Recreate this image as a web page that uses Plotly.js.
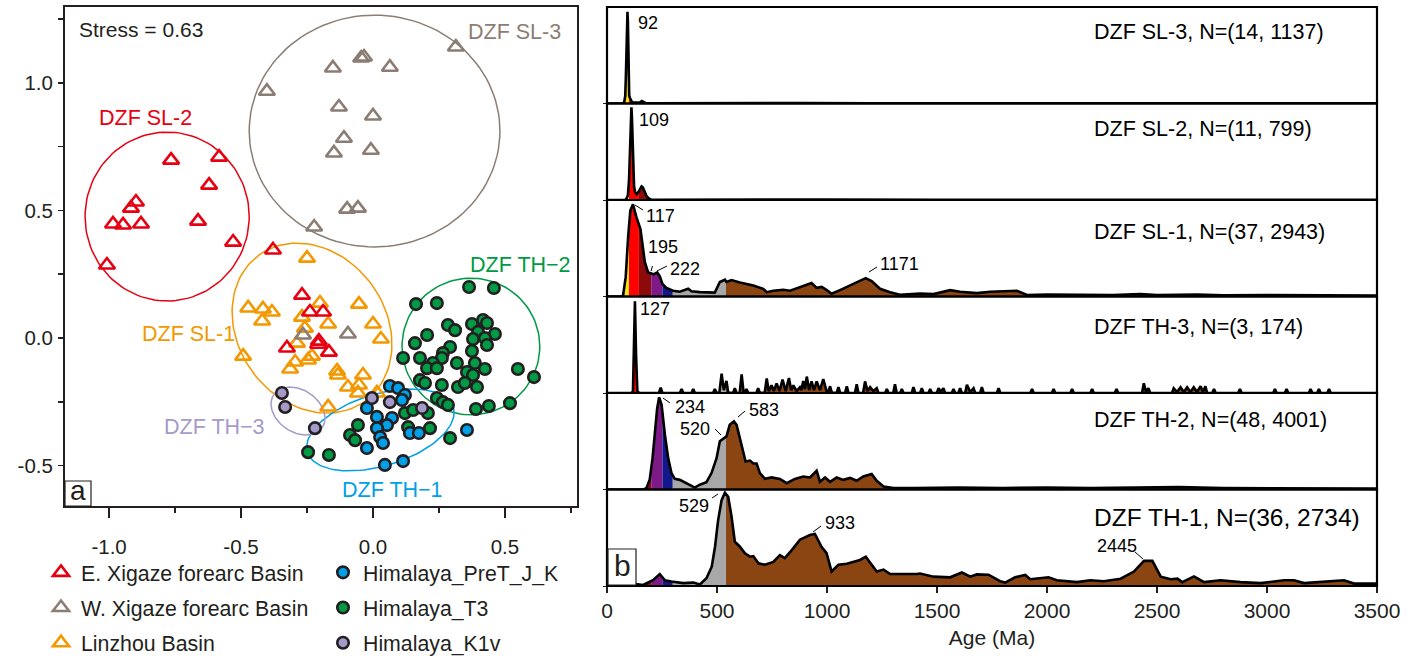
<!DOCTYPE html>
<html><head><meta charset="utf-8">
<script src="https://cdn.plot.ly/plotly-3.0.1.min.js"></script>
<style>html,body{margin:0;padding:0;background:#fff}#chart{width:1414px;height:659px}</style>
</head><body><div id="chart"></div>
<script>
// ---------------- Panel a: MDS configuration ----------------
const redX = [-0.765,-0.583,-0.621,-0.898,-0.917,-0.985,-0.947,-0.879,-0.663,-0.530,-1.008,-0.379,-0.269,-0.239,-0.189,-0.205,-0.208,-0.326,-0.167];
const redY = [0.697,0.709,0.599,0.533,0.509,0.447,0.443,0.447,0.458,0.376,0.286,0.345,0.168,0.102,0.102,-0.012,-0.024,-0.039,-0.055];
const grayX = [-0.402,-0.152,-0.045,-0.034,0.064,0.314,-0.129,0.000,-0.110,-0.148,-0.008,-0.098,-0.057,-0.223,-0.265,-0.095];
const grayY = [0.967,1.058,1.097,1.101,1.061,1.140,0.905,0.870,0.783,0.725,0.736,0.505,0.509,0.435,0.012,0.016];
const orangeX = [-0.250,-0.473,-0.417,-0.383,-0.420,-0.201,-0.053,-0.269,-0.258,-0.170,0.000,0.030,-0.288,-0.492,-0.231,-0.246,-0.295,-0.314,-0.136,-0.133,-0.038,-0.053,-0.095,-0.057,0.015,-0.170];
const orangeY = [0.313,0.118,0.114,0.102,0.067,0.137,0.133,0.082,0.039,0.055,0.055,-0.004,-0.020,-0.071,-0.071,-0.086,-0.094,-0.121,-0.129,-0.145,-0.145,-0.184,-0.192,-0.215,-0.215,-0.270];
const greenX = [0.364,0.458,0.163,0.242,0.284,0.311,0.375,0.417,0.432,0.398,0.462,0.205,0.159,0.379,0.424,0.432,0.292,0.265,0.261,0.375,0.114,0.178,0.318,0.386,0.424,0.227,0.205,0.242,0.356,0.379,0.549,0.610,0.178,0.197,0.261,0.322,0.348,0.394,0.242,0.265,0.284,0.519,0.439,0.390,0.208,0.121,-0.057,-0.087,-0.068,-0.246,-0.167,0.152,0.133,0.216,0.292];
const greenY = [0.200,0.196,0.133,0.137,0.051,0.031,0.055,0.071,0.059,0.024,0.016,0.012,-0.020,-0.004,0.000,-0.027,-0.035,-0.059,-0.078,-0.051,-0.078,-0.078,-0.098,-0.098,-0.121,-0.098,-0.118,-0.118,-0.133,-0.145,-0.121,-0.153,-0.165,-0.176,-0.184,-0.192,-0.176,-0.192,-0.235,-0.251,-0.262,-0.255,-0.266,-0.278,-0.294,-0.294,-0.341,-0.380,-0.400,-0.447,-0.458,-0.282,-0.349,-0.353,-0.392];
const blueX = [0.064,0.095,0.121,0.110,-0.023,0.015,0.072,0.053,0.015,0.027,0.038,-0.023,0.140,0.174,0.045,0.114,0.356];
const blueY = [-0.188,-0.196,-0.223,-0.243,-0.274,-0.309,-0.313,-0.341,-0.353,-0.388,-0.411,-0.431,-0.372,-0.372,-0.497,-0.482,-0.360];
const purpleX = [-0.345,-0.333,-0.220,-0.004,0.064,0.186];
const purpleY = [-0.215,-0.270,-0.353,-0.235,-0.251,-0.274];

// group ellipses: centre, semi-axes, rotation
const ellipseNames = ['DZF SL-3','DZF SL-2','DZF SL-1','DZF TH-2','DZF TH-1','DZF TH-3'];
const ellipseCx = [0.006,-0.780,-0.231,0.371,0.028,-0.284];
const ellipseCy = [0.811,0.476,0.039,-0.033,-0.360,-0.286];
const ellipseA  = [0.475,0.311,0.342,0.261,0.289,0.111];
const ellipseB  = [0.439,0.320,0.280,0.259,0.136,0.080];
const ellipseAng= [0,0,126,0,17,-34];

const xTickVals = [-1,-0.5,0,0.5];
const xTickText = ['-1.0','-0.5','0.0','0.5'];
const yTickVals = [-0.5,0,0.5,1];
const yTickText = ['-0.5','0.0','0.5','1.0'];

// ---------------- Panel b: KDE age spectra ----------------
const sampleNames = ['DZF SL-3, N=(14, 1137)','DZF SL-2, N=(11, 799)','DZF SL-1, N=(37, 2943)','DZF TH-3, N=(3, 174)','DZF TH-2, N=(48, 4001)','DZF TH-1, N=(36, 2734)'];

const sl3Age = [0,70,78,83,86,88,90,93,95,97,99,101,104,108,112,120,140,150,158,165,175,200,400,600,900,1200,1500,2000,2500,3000,3500];
const sl3Den = [0,0,1,8,30,60,85,95,85,50,20,8,6,4,2,1,0.5,1,2.5,2,0.5,0.3,0.5,0.3,0.4,0.3,0.3,0.2,0.2,0.2,0.2];

const sl2Age = [0,80,88,95,100,104,108,111,113,116,119,123,128,135,142,150,157,163,170,180,190,200,220,400,700,1000,1500,2000,2500,3000,3500];
const sl2Den = [0,0,1,5,20,55,85,96,88,60,30,14,8,6,8,12,14,13,9,4,1.5,0.5,0.3,0.5,0.3,0.5,0.3,0.3,0.2,0.2,0.2];

const sl1Age = [0,60,73,85,96,106,118,134,152,161,172,187,202,212,228,240,252,270,300,331,369,384,422,490,513,536,543,566,604,665,710,726,756,801,832,885,930,953,976,999,1021,1059,1120,1176,1203,1241,1287,1332,1423,1484,1560,1605,1681,1742,1863,1909,2000,2150,2300,2424,2500,2683,2800,3000,3200,3500];
const sl1Den = [0,0,1,20,61.6,89,95.5,82,70,55,35.6,25,23.5,23,25,20.8,13,9,6,5,8,5.5,4.5,4,15,17.4,15,17,14.5,11.4,8,4.5,6,7,6,10.4,14,9,10,6.6,2.8,6.6,13,19,16,8,4.5,1.7,3,2.5,6.6,5,3.5,5,6,1.5,2,1.5,1.5,2.5,1.5,2,1.2,1.5,1,1];

const th3Age = [0,112,118,122,127,132,138,146,236,244,252,331,339,347,384,392,400,482,490,498,511,521,531,543,551,573,581,589,603,612,621,626,634,642,679,687,695,
  717,726,735,748,758,771,784,798,812,827,837,847,862,877,884,892,900,908,919,930,941,953,968,983,998,1006,1014,1022,
  1044,1052,1060,1082,1090,1098,1127,1135,1143,1164,1173,1184,1196,1211,1226,1234,1264,1272,1280,1301,1309,1317,1332,1340,1348,
  1385,1393,1401,1423,1431,1439,1461,1469,1477,1499,1507,1518,1529,1537,1567,1575,1583,1597,1605,1613,1628,1636,1651,1666,1674,
  1696,1704,1712,1772,1780,1788,1924,1932,1940,2022,2030,2038,2106,2114,2122,2197,2205,2213,2308,2316,2324,2432,2440,2450,2461,2469,
  2568,2576,2591,2607,2622,2637,2652,2667,2682,2698,2709,2720,2728,2751,2759,2767,2869,2877,2885,3028,3036,3044,3081,3089,3097,
  3190,3198,3206,3228,3236,3244,3274,3282,3290,3500];
const th3Den = [0,0,2,40,95,40,2,0,0,5.5,0,0,4,0,0,4,0,0,4,0,0.5,20,3,12.5,0.5,0,5,0,0,19.4,0.5,0.5,4,0,0,5,0,
  0.5,15,2,8,2,10,2,14,2,15.6,3,8,2,6,3,12.5,4,17,3,12,3,12,3,14.5,2,1,7,0.5,
  0,6,0,0,7,0,0,9,0,0,12,2,6,2,5,0,0,4,0,0,9,0,0,4,0,
  0,6,0,0,5,0,0,4,0,0,5,1,5,0,0,4,0,0,5,0,0,8.6,1,5,0,
  0,6,0,0,5,0,0,4,0,0,4,0,0,4,0,0,4,0,0,4,0,0,10,1,5,0,
  0,5,1,6,1,6,1,6,1,7,1,7,0,0,4,0,0,4,0,0,4,0,0,4,0,
  0,4,0,0,4,0,0,4,0,0];

const th2Age = [0,165,179,194,207,217,228,237,248,263,278,293,308,331,361,399,422,452,475,498,513,531,543,558,577,589,604,619,630,650,665,680,695,718,748,786,817,854,892,923,953,968,991,1014,1044,1074,1105,1135,1165,1203,1226,1257,1302,1400,1600,1800,2000,2200,2400,2600,2800,3000,3200,3500];
const th2Den = [0,0,1.4,10,32.5,60,84,95.5,88,57,32.5,17,11,10,6.6,2,5,7.6,17,32.5,50,53,55,67,70.6,67,53,36,29,30,27,27,17,11,12.5,11,6.6,11,13.5,12.5,19.4,8,12.5,8,12.5,10,12,9,13.5,16,9,3,1.5,1.5,2,1.5,2,1.5,2,2.5,1.5,1.5,1,1];

const th1Age = [0,100,118,130,164,209,240,263,293,346,393,422,452,476,491,505,521,536,551,566,581,604,627,650,665,688,718,756,786,808,839,877,922,945,975,998,1021,1052,1090,1120,1150,1176,1203,1226,1257,1287,1409,1423,1484,1560,1613,1651,1681,1734,1787,1810,1855,1901,1924,2007,2045,2136,2197,2258,2335,2395,2441,2479,2517,2562,2593,2615,2668,2714,2789,2880,2971,3077,3123,3168,3350,3396,3500];
const th1Den = [1,1,3.4,2,1,6,12.4,6,4.6,3,3.5,1.6,8,20,40.7,68,89,96.7,92.5,72,46,40.7,33.8,30.4,31,23.5,22,25,32,29,37,48,52.8,54,40.7,34,15,22,23,25,27,30.4,22,15,17,12.4,12.4,13,9.7,9,14,9.7,12,11.7,5,3.5,9,11.4,7,9,6,4,6,5,7.6,15,26,26,9.7,7,7.6,4,10,4,6,4,3,6,6,3,6,2.5,2.5];

// geological time bins for fill colours
const binEdges = [0,100,145,201,252,299,541,4600];
const binColors = ['#f7e21a','#ff0000','#8c0a0a','#7e1a88','#12188c','#a8a8a8','#8b4513'];

const peakText = ['92','109','117','195','222','1171','127','234','520','583','529','933','2445'];
const xAgeTicks = [0,500,1000,1500,2000,2500,3000,3500];

// ---------------- build ----------------
const FONT = 'Arial, "Liberation Sans", sans-serif';
const INK = '#231f20';
const W = 1414, H = 659;
const P = px => px / W;
const Q = py => 1 - py / H;

const traces = [];

const kY = 264 / 255.3;
const ellColors = ['#8c7d74','#e60012','#f39800','#009944','#00a0e9','#a59aca'];
for (let e = 0; e < ellipseNames.length; e++) {
  const xs = [], ys = [];
  const th = ellipseAng[e] * Math.PI / 180;
  for (let i = 0; i <= 120; i++) {
    const t = 2 * Math.PI * i / 120;
    const dx = ellipseA[e] * Math.cos(t) * Math.cos(th) - ellipseB[e] * Math.sin(t) * Math.sin(th);
    const dy = ellipseA[e] * Math.cos(t) * Math.sin(th) + ellipseB[e] * Math.sin(t) * Math.cos(th);
    xs.push(ellipseCx[e] + dx); ys.push(ellipseCy[e] + dy * kY);
  }
  traces.push({x: xs, y: ys, xaxis: 'x', yaxis: 'y', mode: 'lines', name: ellipseNames[e],
    line: {color: ellColors[e], width: 1.5}, showlegend: false, hoverinfo: 'skip'});
}

function tri(name, xs, ys, col, rank) {
  return {x: xs, y: ys, xaxis: 'x', yaxis: 'y', mode: 'markers', name: name, legend: 'legend',
    legendgroup: name, legendrank: rank,
    marker: {symbol: 'triangle-up-open', size: 14, color: col, line: {width: 2.6, color: col}}};
}
function dot(name, xs, ys, col, rank) {
  return {x: xs, y: ys, xaxis: 'x', yaxis: 'y', mode: 'markers', name: name, legend: 'legend2',
    legendgroup: name, legendrank: rank,
    marker: {symbol: 'circle', size: 11.5, color: col, line: {width: 2.6, color: INK}}};
}
traces.push(tri('Linzhou Basin', orangeX, orangeY, '#f39800', 3));
traces.push(tri('W. Xigaze forearc Basin', grayX, grayY, '#8c7d74', 2));
traces.push(tri('E. Xigaze forearc Basin', redX, redY, '#e60012', 1));
traces.push(dot('Himalaya_T3', greenX, greenY, '#009944', 2));
traces.push(dot('Himalaya_PreT_J_K', blueX, blueY, '#00a0e9', 1));
traces.push(dot('Himalaya_K1v', purpleX, purpleY, '#a59aca', 3));

const ages = [sl3Age, sl2Age, sl1Age, th3Age, th2Age, th1Age];
const dens = [sl3Den, sl2Den, sl1Den, th3Den, th2Den, th1Den];
function valAt(a, d, t) {
  for (let i = 0; i < a.length - 1; i++) {
    if (t >= a[i] && t <= a[i + 1]) {
      const f = (t - a[i]) / (a[i + 1] - a[i] || 1);
      return d[i] + f * (d[i + 1] - d[i]);
    }
  }
  return 0;
}
for (let p = 0; p < 6; p++) {
  const a = ages[p], d = dens[p], ya = 'y' + (p + 2);
  for (let k = 0; k < binColors.length; k++) {
    const lo = Math.max(binEdges[k], a[0]), hi = Math.min(binEdges[k + 1], a[a.length - 1]);
    if (hi <= lo) continue;
    const xs = [lo], ys = [valAt(a, d, lo)];
    for (let i = 0; i < a.length; i++) if (a[i] > lo && a[i] < hi) { xs.push(a[i]); ys.push(d[i]); }
    xs.push(hi); ys.push(valAt(a, d, hi));
    if (Math.max(...ys) <= 0) continue;
    traces.push({x: xs, y: ys, xaxis: 'x2', yaxis: ya, mode: 'lines', line: {width: 0},
      fill: 'tozeroy', fillcolor: binColors[k], showlegend: false, hoverinfo: 'skip'});
  }
  traces.push({x: a, y: d, xaxis: 'x2', yaxis: ya, mode: 'lines', name: sampleNames[p],
    line: {color: '#000', width: 2.6}, showlegend: false, hoverinfo: 'skip'});
}

// ---------------- layout ----------------
const rowEdges = [7, 103.5, 200, 296.5, 393, 489.5, 586];
const layout = {
  width: W, height: H, margin: {l: 0, r: 0, t: 0, b: 0, autoexpand: false},
  paper_bgcolor: '#fff', plot_bgcolor: 'rgba(0,0,0,0)',
  font: {family: FONT, color: INK, size: 20},
  xaxis: {domain: [P(65), P(577)], anchor: 'y', range: [-1.167, 0.773],
    tickmode: 'array', tickvals: xTickVals, ticktext: xTickText,
    ticks: 'outside', ticklen: 10, tickwidth: 1.5, tickcolor: INK,
    minor: {tickmode: 'array', tickvals: [-0.75, -0.25, 0.25, 0.75], ticks: 'outside', ticklen: 5, tickwidth: 1.5, tickcolor: INK},
    showline: true, mirror: true, linewidth: 2, linecolor: INK, showgrid: false, zeroline: false,
    tickfont: {size: 20.5}, ticklabelstandoff: 11},
  yaxis: {domain: [Q(506), Q(7)], anchor: 'x', range: [-0.658, 1.297],
    tickmode: 'array', tickvals: yTickVals, ticktext: yTickText,
    ticks: 'outside', ticklen: 5, tickwidth: 1.5, tickcolor: INK,
    minor: {tickmode: 'array', tickvals: [-0.25, 0.25, 0.75, 1.25], ticks: 'outside', ticklen: 5, tickwidth: 1.5, tickcolor: INK},
    showline: true, mirror: true, linewidth: 2, linecolor: INK, showgrid: false, zeroline: false,
    tickfont: {size: 20.5}, ticklabelstandoff: 1},
  xaxis2: {domain: [P(607), P(1377)], anchor: 'y7', range: [0, 3500],
    tickmode: 'array', tickvals: xAgeTicks, ticks: 'outside', ticklen: 6, tickwidth: 1.5, tickcolor: INK,
    showline: false, showgrid: false, zeroline: false, tickfont: {size: 21},
    title: {text: 'Age (Ma)', font: {size: 21}, standoff: 9}},
  showlegend: true,
  legend: {x: P(41), y: Q(552), xanchor: 'left', yanchor: 'top', orientation: 'v',
    traceorder: 'grouped', tracegroupgap: 4.5, bgcolor: 'rgba(0,0,0,0)', font: {size: 21.3, color: INK}},
  legend2: {x: P(323), y: Q(552), xanchor: 'left', yanchor: 'top', orientation: 'v',
    traceorder: 'grouped', tracegroupgap: 4.5, bgcolor: 'rgba(0,0,0,0)', font: {size: 21.3, color: INK}},
  shapes: [], annotations: []
};
for (let p = 0; p < 6; p++) {
  layout['yaxis' + (p + 2)] = {domain: [Q(rowEdges[p + 1]), Q(rowEdges[p])], anchor: 'x2', range: [0, 100],
    showticklabels: false, tickmode: 'array', tickvals: [0], ticks: 'outside', ticklen: 3, tickcolor: INK,
    showgrid: false, zeroline: false, showline: false};
  layout.shapes.push({type: 'rect', xref: 'x2 domain', yref: 'y' + (p + 2) + ' domain',
    x0: 0, x1: 1, y0: 0, y1: 1, line: {color: '#000', width: 2.2}, layer: 'above'});
}

layout.shapes.push({type: 'rect', xref: 'paper', yref: 'paper', x0: P(65), x1: P(91), y0: Q(506), y1: Q(481),
  line: {color: INK, width: 1.2}, fillcolor: '#fff', layer: 'above'});
layout.shapes.push({type: 'rect', xref: 'paper', yref: 'paper', x0: P(608), x1: P(636), y0: Q(585), y1: Q(549),
  line: {color: INK, width: 1.2}, fillcolor: '#fff', layer: 'above'});

function ann(text, x, y, size, color, xanchor) {
  layout.annotations.push({text: text, xref: 'paper', yref: 'paper', x: P(x), y: Q(y),
    xanchor: xanchor || 'center', yanchor: 'middle', showarrow: false,
    font: {family: FONT, size: size, color: color || INK}});
}
ann('a', 78, 491, 28);
ann('b', 622, 565, 30);
ann('Stress = 0.63', 77, 30, 21, INK, 'left');
ann('DZF SL-3', 514, 32, 21.5, '#8c7d74');
ann('DZF SL-2', 145, 118, 21.5, '#e60012');
ann('DZF SL-1', 188, 334, 21.5, '#f39800');
ann('DZF TH\u22122', 520, 265, 21.5, '#009944');
ann('DZF TH\u22123', 214, 427, 21.5, '#a59aca');
ann('DZF TH\u22121', 392, 490, 21.5, '#00a0e9');

const sampleLabelY = [32, 129, 232, 327, 420, 517];
for (let p = 0; p < 6; p++) ann(sampleNames[p], 1092, sampleLabelY[p], p === 5 ? 24.5 : 21.5, '#000', 'left');

const peakPos = [[636,23],[637,120],[644,216],[646,247],[668,269],[878,264],[638,309],[673,407],[678,429],[747,410],[677,506],[823,523],[1095,546]];
const leaders = [null,null,[635,205,643,210],[651,271,652.5,266],[657,271,667,266],[869,272,877,267],null,
  [663,398,670,403],[715,429,721,435],[738,417,745,411],[712,498,718,494],[813,532,821,526],[1135,552,1143,559]];
for (let i = 0; i < peakText.length; i++) {
  ann(peakText[i], peakPos[i][0], peakPos[i][1], 18, '#000', 'left');
  const L = leaders[i];
  if (L) layout.shapes.push({type: 'line', xref: 'paper', yref: 'paper', x0: P(L[0]), y0: Q(L[1]), x1: P(L[2]), y1: Q(L[3]),
    line: {color: '#000', width: 1}});
}

Plotly.newPlot('chart', traces, layout, {displayModeBar: false, staticPlot: true});
</script></body></html>
